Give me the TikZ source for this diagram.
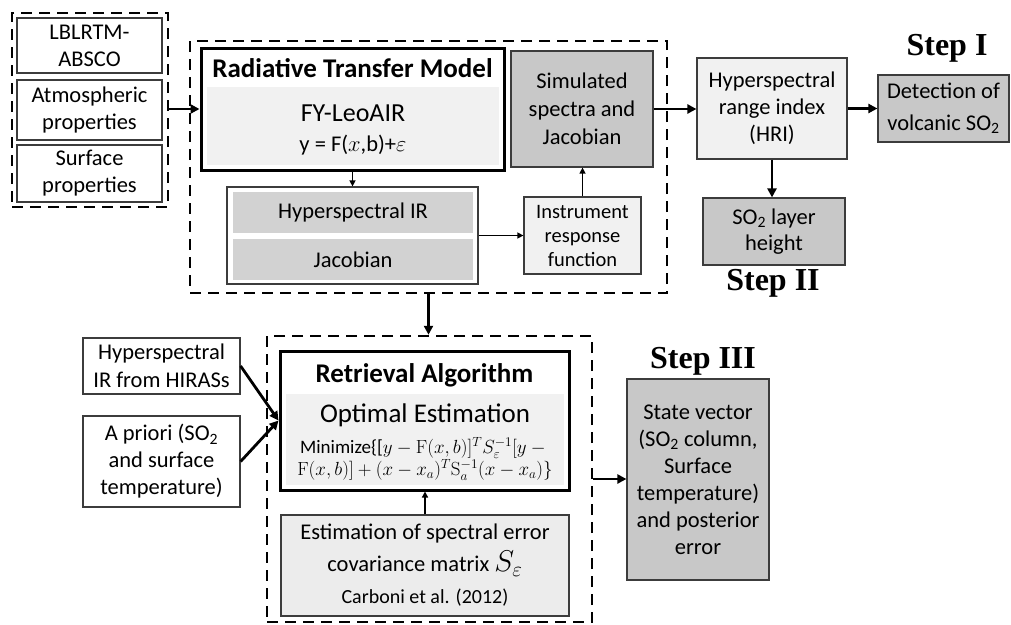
\RequirePackage{fix-cm}
\documentclass[tikz,border=0pt]{standalone}
\usepackage[no-math]{fontspec}
\setmainfont{Carlito}
\newfontfamily\stepfont{Liberation Serif}
\usetikzlibrary{arrows.meta}
\definecolor{edge}{RGB}{60,60,60}
\definecolor{darkfill}{RGB}{200,200,200}
\definecolor{midfill}{RGB}{210,210,210}
\definecolor{lightfill}{RGB}{241,241,241}
\definecolor{estfill}{RGB}{236,236,236}
\begin{document}
\begin{tikzpicture}[x=1pt,y=-1pt,
  every node/.style={font=\fontsize{22.5}{27}\selectfont, align=center, inner sep=0pt},
  box/.style={draw=edge, line width=1.2pt},
  heavy/.style={draw=black, line width=3pt},
  dashbox/.style={draw=black, line width=2.5pt, dash pattern=on 11pt off 7pt},
  arr/.style={line width=2.8pt, -{Triangle[length=9pt,width=9pt]}},
  tarr/.style={line width=1.3pt, -{Triangle[length=6pt,width=6pt]}},
  steplabel/.style={font=\stepfont\bfseries\fontsize{32}{36}\selectfont},
  wh/.style 2 args={minimum width=#1pt, minimum height=#2pt}]
\useasboundingbox (0,0) rectangle (1011,624);

% ---- left input group
\node[dashbox, wh={156}{194}] (leftdash) at (90,110) {};
\node[box, wh={145}{55}] (lbl) at (89.5,45.5) {LBLRTM-\\ABSCO};
\node[box, wh={145}{60}] (atm) at (89.5,110) {Atmospheric\\properties};
\node[box, wh={145}{57}] (surf) at (89.5,173.5) {Surface\\properties};

% ---- forward model group
\node[dashbox, wh={477}{252}] (topdash) at (428.5,167) {};
\node[heavy, fill=white, wh={303}{122}] (rtm) at (352.5,109) {};
\node[font=\bfseries\fontsize{27}{32}\selectfont] (rtmtitle) at (352.5,68) {Radiative Transfer Model};
\node[fill=lightfill, wh={292}{78}] (rtmin) at (353,126) {};
\node[font=\fontsize{22.5}{30}\selectfont] (fy) at (353,129.5)
  {{\fontsize{26}{30}\selectfont FY-LeoAIR}\\y = F($x$,b)+$\varepsilon$};
\node[box, fill=white, wh={251}{97}] (hyp) at (352.5,235.5) {};
\node[fill=midfill, wh={240}{41}] (hir) at (353,212.5) {Hyperspectral IR};
\node[fill=midfill, wh={240}{41}] (jac) at (353,259.5) {Jacobian};
\node[box, fill=lightfill, wh={117}{77}, font=\fontsize{20.5}{24}\selectfont] (irf) at (582.5,235.5) {Instrument\\response\\function};
\node[box, fill=darkfill, wh={142}{116}, font=\fontsize{22.5}{28}\selectfont] (sim) at (582,109) {Simulated\\spectra and\\Jacobian};

% ---- detection / height
\node[box, fill=lightfill, wh={150}{101}] (hri) at (772,108.5) {Hyperspectral\\range index\\(HRI)};
\node[box, fill=darkfill, wh={131}{67}, font=\fontsize{22.5}{32}\selectfont] (det) at (943.5,108.5) {Detection of\\volcanic SO\textsubscript{2}};
\node[steplabel] (step1) at (947,48) {Step I};
\node[box, fill=darkfill, wh={142}{67}, font=\fontsize{22.5}{26}\selectfont] (so2) at (774,231.5) {SO\textsubscript{2} layer\\height};
\node[steplabel] (step2) at (773,283) {Step II};

% ---- retrieval group
\node[box, wh={157}{56}, font=\fontsize{22.5}{28}\selectfont] (hiras) at (161.5,366) {Hyperspectral\\IR from HIRASs};
\node[box, wh={157}{91}] (apr) at (161.5,461.5) {A priori (SO\textsubscript{2}\\and surface\\temperature)};
\node[dashbox, wh={325}{286}] (botdash) at (429.5,479) {};
\node[heavy, fill=white, wh={289}{139}] (ret) at (424.5,420.5) {};
\node[font=\bfseries\fontsize{27}{32}\selectfont] (rettitle) at (424.5,375) {Retrieval Algorithm};
\node[fill=lightfill, wh={278}{91}] (retin) at (425,439.5) {};
\node[font=\fontsize{27}{30}\selectfont] (oe) at (425,415) {Optimal Estimation};
\node[font=\fontsize{19}{21.5}\selectfont] (formula) at (425,459)
  {Minimize\{[$y-\mathrm{F}(x,b)]^{T}S_{\varepsilon}^{-1}[y-{}$\\$\mathrm{F}(x,b)]+(x-x_a)^{T}\mathrm{S}_a^{-1}(x-x_a)\}$};
\node[box, fill=estfill, wh={288}{101}, font=\fontsize{22.5}{32}\selectfont] (est) at (425,565.5)
  {Estimation of spectral error\\covariance matrix {\fontsize{30}{30}\selectfont$S_{\varepsilon}$}\\{\fontsize{20}{24}\selectfont Carboni et al. (2012)}};
\node[box, fill=darkfill, wh={142}{201}] (state) at (698,479.5) {State vector\\(SO\textsubscript{2} column,\\Surface\\temperature)\\and posterior\\error};
\node[steplabel] (step3) at (703,361) {Step III};

% ---- connectors
\draw[arr] (leftdash.east |- rtm.west) -- (rtm.west);
\draw[tarr] (rtm.south) -- (hyp.north);
\draw[tarr] (hyp.east) -- (irf.west);
\draw[tarr] (irf.north) -- (irf.north |- sim.south);
\draw[arr] (sim.east) -- (sim.east -| hri.west);
\draw[arr] (hri.east) -- (det.west);
\draw[arr] (hri.south) -- (hri.south |- so2.north);
\draw[arr] (topdash.south) -- (topdash.south |- botdash.north);
\draw[arr] (hiras.east) -- (ret.west);
\draw[arr] (apr.east) -- (ret.west);
\draw[tarr] (est.north) -- (est.north |- ret.south);
\draw[arr] (botdash.east) -- (botdash.east -| state.west);
\end{tikzpicture}
\end{document}
